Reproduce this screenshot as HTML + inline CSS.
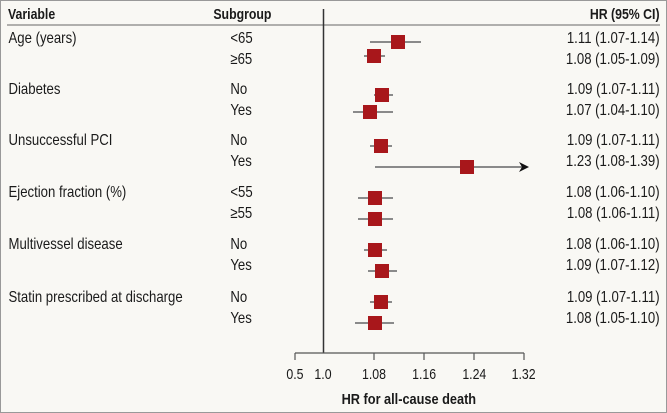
<!DOCTYPE html>
<html><head><meta charset="utf-8"><style>
html,body{margin:0;padding:0;background:#f9f8f4;}
svg{display:block;}
text{font-family:"Liberation Sans",sans-serif;fill:#1a1a1a;}
</style></head><body>
<svg width="667" height="413" viewBox="0 0 667 413" xmlns="http://www.w3.org/2000/svg">
<rect x="0.5" y="0.5" width="666" height="412" fill="#f9f8f4" stroke="#999" stroke-width="1"/>
<g font-size="14.5">
<g transform="scale(0.85,1)" font-weight="bold">
<text x="9.4" y="19">Variable</text>
<text x="251" y="19">Subgroup</text>
<text x="776" y="19" text-anchor="end">HR (95% CI)</text>
</g>
<line x1="7" y1="25" x2="660" y2="25" stroke="#666" stroke-width="1"/>
<line x1="323.5" y1="9" x2="323.5" y2="353" stroke="#333" stroke-width="1.5"/>
<g transform="scale(0.85,1)" font-size="15.5">
<text x="10" y="43">Age (years)</text>
<text x="271" y="43">&lt;65</text><text x="776" y="43" text-anchor="end">1.11 (1.07-1.14)</text>
<text x="271" y="64">≥65</text><text x="776" y="64" text-anchor="end">1.08 (1.05-1.09)</text>
<text x="10" y="94">Diabetes</text>
<text x="271" y="94">No</text><text x="776" y="94" text-anchor="end">1.09 (1.07-1.11)</text>
<text x="271" y="115">Yes</text><text x="776" y="115" text-anchor="end">1.07 (1.04-1.10)</text>
<text x="10" y="145">Unsuccessful PCI</text>
<text x="271" y="145">No</text><text x="776" y="145" text-anchor="end">1.09 (1.07-1.11)</text>
<text x="271" y="166">Yes</text><text x="776" y="166" text-anchor="end">1.23 (1.08-1.39)</text>
<text x="10" y="197">Ejection fraction (%)</text>
<text x="271" y="197">&lt;55</text><text x="776" y="197" text-anchor="end">1.08 (1.06-1.10)</text>
<text x="271" y="218">≥55</text><text x="776" y="218" text-anchor="end">1.08 (1.06-1.11)</text>
<text x="10" y="249">Multivessel disease</text>
<text x="271" y="249">No</text><text x="776" y="249" text-anchor="end">1.08 (1.06-1.10)</text>
<text x="271" y="270">Yes</text><text x="776" y="270" text-anchor="end">1.09 (1.07-1.12)</text>
<text x="10" y="302">Statin prescribed at discharge</text>
<text x="271" y="302">No</text><text x="776" y="302" text-anchor="end">1.09 (1.07-1.11)</text>
<text x="271" y="323">Yes</text><text x="776" y="323" text-anchor="end">1.08 (1.05-1.10)</text>
</g>
</g>
<g stroke="#666" stroke-width="1.5">
<line x1="370" y1="42" x2="421" y2="42"/>
<line x1="364" y1="56" x2="385" y2="56"/>
<line x1="374" y1="95" x2="393" y2="95"/>
<line x1="353" y1="112" x2="393" y2="112"/>
<line x1="370" y1="146" x2="392" y2="146"/>
<line x1="375" y1="167" x2="522" y2="167"/>
<line x1="358" y1="198" x2="393" y2="198"/>
<line x1="358" y1="219" x2="393" y2="219"/>
<line x1="364" y1="250" x2="387" y2="250"/>
<line x1="368" y1="271" x2="397" y2="271"/>
<line x1="370" y1="302" x2="392" y2="302"/>
<line x1="355" y1="323" x2="394" y2="323"/>
</g>
<polygon points="519,162 529,167 519,172 522,167" fill="#111"/>
<g fill="#a8171b">
<rect x="391" y="35" width="14" height="14"/>
<rect x="367" y="49" width="14" height="14"/>
<rect x="375" y="88" width="14" height="14"/>
<rect x="363" y="105" width="14" height="14"/>
<rect x="374" y="139" width="14" height="14"/>
<rect x="460" y="160" width="14" height="14"/>
<rect x="368" y="191" width="14" height="14"/>
<rect x="368" y="212" width="14" height="14"/>
<rect x="368" y="243" width="14" height="14"/>
<rect x="375" y="264" width="14" height="14"/>
<rect x="374" y="295" width="14" height="14"/>
<rect x="368" y="316" width="14" height="14"/>
</g>
<g stroke="#555" stroke-width="1.2">
<line x1="295" y1="353" x2="524" y2="353"/>
<line x1="295" y1="353" x2="295" y2="360"/>
<line x1="374" y1="353" x2="374" y2="360"/>
<line x1="424" y1="353" x2="424" y2="360"/>
<line x1="474" y1="353" x2="474" y2="360"/>
<line x1="524" y1="353" x2="524" y2="360"/>
</g>
<g font-size="14.5" text-anchor="middle">
<g transform="scale(0.85,1)">
<text x="347" y="379">0.5</text>
<text x="380" y="379">1.0</text>
<text x="440" y="379">1.08</text>
<text x="499" y="379">1.16</text>
<text x="558" y="379">1.24</text>
<text x="616" y="379">1.32</text>
<text x="481" y="404" font-weight="bold" font-size="15">HR for all-cause death</text>
</g>
</g>
</svg>
</body></html>
